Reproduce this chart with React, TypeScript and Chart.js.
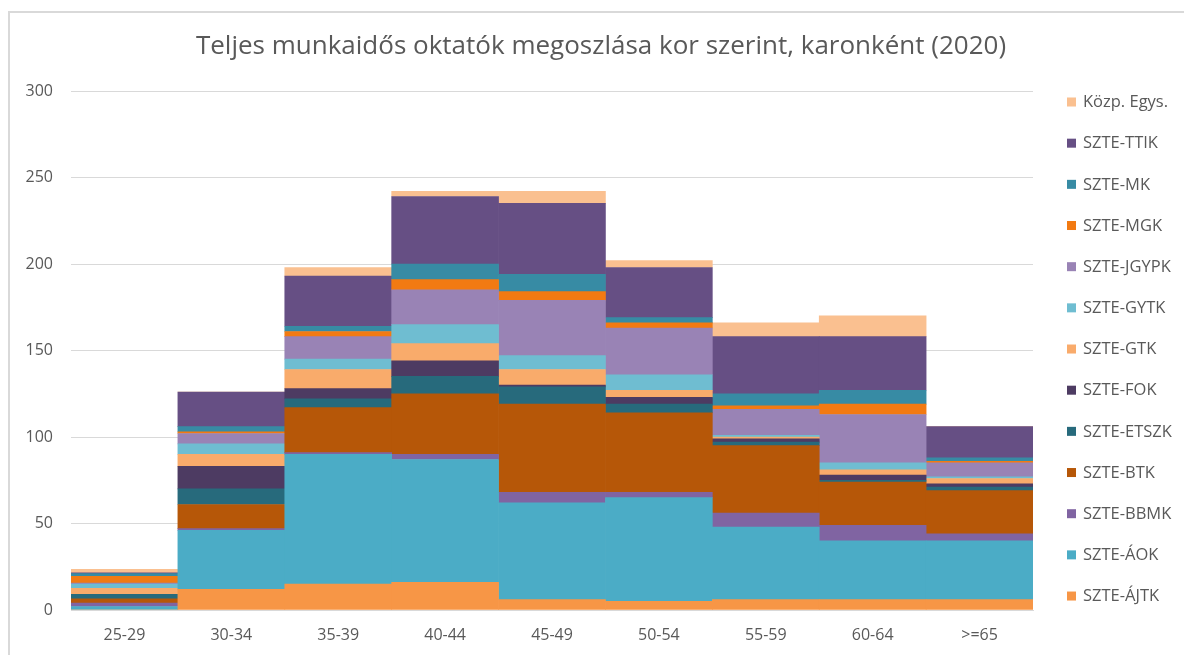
import React, { useEffect, useRef } from "react";
import { Chart, registerables } from "chart.js";

Chart.register(...registerables);

const categories = ["25-29", "30-34", "35-39", "40-44", "45-49", "50-54", "55-59", "60-64", ">=65"];
const yTicks = [0, 50, 100, 150, 200, 250, 300];

const ajtk = [0, 12, 15, 16, 6, 5, 6, 6, 6];
const aok = [2, 34, 75, 71, 56, 60, 42, 34, 34];
const bbmk = [2, 1, 1, 3, 6, 3, 8, 9, 4];
const btk = [2.5, 14, 26, 35, 51, 46, 39, 25, 25];
const etszk = [2.5, 9, 5, 10, 10, 5, 2, 1, 2];
const fok = [0, 13, 6, 9, 1, 4, 2, 3, 2];
const gtk = [3.5, 7, 11, 10, 9, 4, 1, 3, 3];
const gytk = [2.5, 6, 6, 11, 8, 9, 1, 4, 1];
const jgypk = [0.5, 6, 13, 20, 32, 27, 15, 28, 8];
const mgk = [4, 1, 3, 6, 5, 3, 2, 6, 1];
const mk = [1.5, 3, 3, 9, 10, 3, 7, 8, 2];
const ttik = [0.5, 20, 29, 39, 41, 29, 33, 31, 18];
const kozp = [2, 0, 5, 3, 7, 4, 8, 12, 0];

const seriesNames = [
  "SZTE-ÁJTK", "SZTE-ÁOK", "SZTE-BBMK", "SZTE-BTK", "SZTE-ETSZK", "SZTE-FOK",
  "SZTE-GTK", "SZTE-GYTK", "SZTE-JGYPK", "SZTE-MGK", "SZTE-MK", "SZTE-TTIK", "Közp. Egys.",
];
const seriesValues = [ajtk, aok, bbmk, btk, etszk, fok, gtk, gytk, jgypk, mgk, mk, ttik, kozp];
const seriesColors = [
  "#F79646", "#4BACC6", "#8064A2", "#B65708", "#276A7C", "#4D3B62",
  "#F9AB6B", "#6FBDD1", "#9983B5", "#F27A12", "#378BA4", "#664F84", "#FAC090",
];
const titleText = "Teljes munkaidős oktatók megoszlása kor szerint, karonként (2020)";

const FONT = "'Open Sans', 'DejaVu Sans', sans-serif";
const TEXT = "#595959";

const legendTitlePlugin = {
  id: "customLegendTitle",
  afterDraw(chart: any) {
    const ctx = chart.ctx;
    const ds = chart.data.datasets;
    ctx.save();
    ctx.fillStyle = TEXT;
    ctx.font = `26px ${FONT}`;
    ctx.textAlign = "center";
    ctx.textBaseline = "middle";
    ctx.fillText(titleText, 601, 47);

    ctx.font = `16.5px ${FONT}`;
    ctx.textAlign = "left";
    const n = ds.length;
    for (let i = 0; i < n; i++) {
      const d = ds[n - 1 - i];
      const cy = 102 + i * 41.17;
      ctx.fillStyle = d.backgroundColor;
      ctx.fillRect(1067, cy - 4.5, 9, 9);
      ctx.fillStyle = TEXT;
      ctx.fillText(d.label, 1083, cy + 0.5);
    }
    ctx.restore();
  },
};

export default function App() {
  const ref = useRef<HTMLCanvasElement | null>(null);
  useEffect(() => {
    if (!ref.current) return;
    const chart = new Chart(ref.current, {
      type: "bar",
      data: {
        labels: categories,
        datasets: seriesNames.map((name, i) => ({
          label: name,
          data: seriesValues[i],
          backgroundColor: seriesColors[i],
          borderWidth: 0,
          barPercentage: 1,
          categoryPercentage: 1,
        })),
      },
      options: {
        animation: false,
        responsive: false,
        maintainAspectRatio: false,
        layout: { padding: { left: 0, right: 151, top: 91, bottom: 0 } },
        plugins: {
          legend: { display: false },
          tooltip: { enabled: false },
          title: { display: false },
        },
        scales: {
          x: {
            stacked: true,
            grid: { display: false, drawTicks: false },
            border: { display: true, color: "#D9D9D9", width: 1 },
            ticks: { color: TEXT, font: { family: FONT, size: 16 }, padding: 16 },
            afterFit: (s: any) => { s.height = 45; },
          },
          y: {
            stacked: true,
            min: 0,
            max: 300,
            afterBuildTicks: (s: any) => { s.ticks = yTicks.map((v) => ({ value: v })); },
            grid: { color: "#D9D9D9", drawTicks: false },
            border: { display: false },
            ticks: { color: TEXT, font: { family: FONT, size: 16 }, padding: 18 },
            afterFit: (s: any) => { s.width = 71; },
          },
        },
      },
      plugins: [legendTitlePlugin],
    });
    return () => chart.destroy();
  }, []);

  return (
    <div style={{ position: "fixed", left: 0, top: 0, width: 1184, height: 655, overflow: "hidden", background: "#fff" }}>
      <div style={{ position: "absolute", left: 8, top: 11, width: 1300, height: 800, border: "2px solid #D9D9D9", boxSizing: "border-box" }} />
      <canvas ref={ref} width={1184} height={655} style={{ position: "absolute", left: 0, top: 0, width: 1184, height: 655 }} />
    </div>
  );
}
